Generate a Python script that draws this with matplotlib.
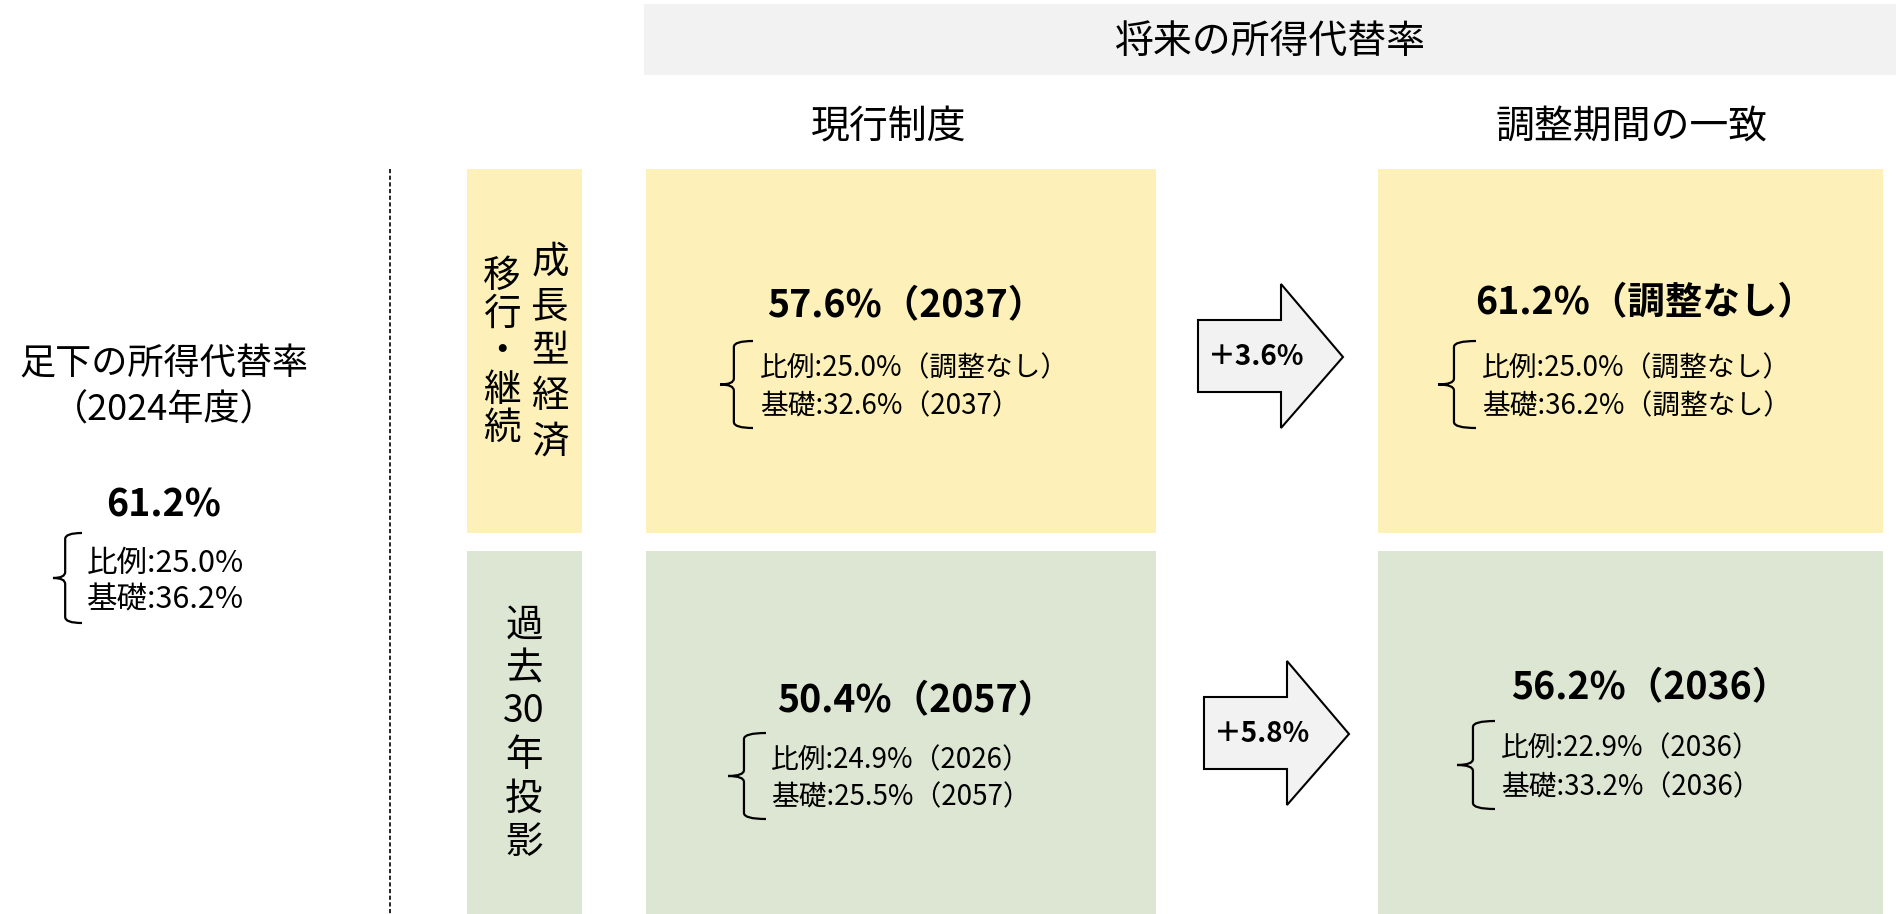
import matplotlib.pyplot as plt
from matplotlib.patches import Rectangle, Polygon, PathPatch
from matplotlib.path import Path

plt.rcParams['font.family'] = ['Noto Sans CJK JP', 'DejaVu Sans']

# data
header = "将来の所得代替率"
column_titles = ["現行制度", "調整期間の一致"]
row_labels = [["成長型経済", "移行・継続"], ["過去30年投影"]]

now_total = 61.2
now_prop = 25.0
now_basic = 36.2

cur_total = [57.6, 50.4]
cur_total_year = ["2037", "2057"]
cur_prop = [25.0, 24.9]
cur_prop_year = ["調整なし", "2026"]
cur_basic = [32.6, 25.5]
cur_basic_year = ["2037", "2057"]

new_total = [61.2, 56.2]
new_total_year = ["調整なし", "2036"]
new_prop = [25.0, 22.9]
new_prop_year = ["調整なし", "2036"]
new_basic = [36.2, 33.2]
new_basic_year = ["調整なし", "2036"]

yellow = "#fdf1b9"
green = "#dde6d2"
grey = "#f2f2f2"

fig = plt.figure(figsize=(18.96, 9.14), dpi=100)
ax = fig.add_axes([0, 0, 1, 1])
ax.set_xlim(0, 1896)
ax.set_ylim(914, 0)
ax.axis('off')


def brace(x0, x1, y0, y1):
    xm = x0 + (x1 - x0) * 0.42
    ym = (y0 + y1) / 2
    r = 6
    verts = [(x1, y0), (xm, y0), (xm, y0 + r), (xm, ym - r), (xm, ym), (x0, ym),
             (xm, ym), (xm, ym + r), (xm, y1 - r), (xm, y1), (x1, y1)]
    codes = [Path.MOVETO, Path.CURVE3, Path.CURVE3, Path.LINETO, Path.CURVE3, Path.CURVE3,
             Path.CURVE3, Path.CURVE3, Path.LINETO, Path.CURVE3, Path.CURVE3]
    ax.add_patch(PathPatch(Path(verts, codes), fill=False, lw=1.6, ec='black'))


def block(cx, ty, total, lines, bx, tx, ly):
    ax.text(cx, ty, total, ha='center', va='center', fontsize=27, fontweight='bold')
    brace(bx[0], bx[1], ly[0] - 27, ly[1] + 22)
    for t, y in zip(lines, ly):
        ax.text(tx, y, t, ha='left', va='center', fontsize=20)


def arrow(x0, yc, label):
    pts = [(x0, yc - 37), (x0 + 83, yc - 37), (x0 + 83, yc - 73), (x0 + 145, yc),
           (x0 + 83, yc + 71), (x0 + 83, yc + 35), (x0, yc + 35)]
    ax.add_patch(Polygon(pts, closed=True, fc=grey, ec='black', lw=1.5))
    ax.text(x0 + 58, yc, label, ha='center', va='center', fontsize=20, fontweight='bold')


# header bars
ax.add_patch(Rectangle((644, 4), 1252, 71, fc=grey, ec='none'))
ax.text(1270, 42, header, ha='center', va='center', fontsize=28)
ax.text(889, 127, column_titles[0], ha='center', va='center', fontsize=28)
ax.text(1632, 127, column_titles[1], ha='center', va='center', fontsize=28)

# dashed divider
ax.plot([390, 390], [169, 914], color='black', lw=1.2, ls=(0, (2.5, 1.5)))

# left block: current rate
ax.text(164, 365, "足下の所得代替率", ha='center', va='center', fontsize=26)
ax.text(164, 411, "（2024年度）", ha='center', va='center', fontsize=26)
ax.text(164, 505, f"{now_total:.1f}%", ha='center', va='center', fontsize=27, fontweight='bold')
brace(53, 82, 533, 623)
ax.text(87, 563, f"比例:{now_prop:.1f}%", ha='left', va='center', fontsize=22)
ax.text(87, 600, f"基礎:{now_basic:.1f}%", ha='left', va='center', fontsize=22)

# boxes
rows = [(169, 364, yellow), (551, 363, green)]
for top, h, c in rows:
    ax.add_patch(Rectangle((467, top), 115, h, fc=c, ec='none'))
    ax.add_patch(Rectangle((646, top), 510, h, fc=c, ec='none'))
    ax.add_patch(Rectangle((1378, top), 505, h, fc=c, ec='none'))

# vertical row labels
for i, ch in enumerate(row_labels[0][0]):
    ax.text(550, 262 + i * 45, ch, ha='center', va='center', fontsize=27)
for i, ch in enumerate(row_labels[0][1]):
    ax.text(502, 276 + i * 38, ch, ha='center', va='center', fontsize=27)
tokens = ["過", "去", "30", "年", "投", "影"]
for i, ch in enumerate(tokens):
    ax.text(524, 625 + i * 43.5, ch, ha='center', va='center', fontsize=27)

# middle column: current system
cur_pos = [dict(cx=906, ty=306, bx=(720, 753), tx=760, ly=(368, 406)),
           dict(cx=916, ty=701, bx=(728, 766), tx=771, ly=(760, 797))]
for i, p in enumerate(cur_pos):
    block(p['cx'], p['ty'], f"{cur_total[i]:.1f}%（{cur_total_year[i]}）",
          [f"比例:{cur_prop[i]:.1f}%（{cur_prop_year[i]}）",
           f"基礎:{cur_basic[i]:.1f}%（{cur_basic_year[i]}）"],
          p['bx'], p['tx'], p['ly'])

# right column: aligned adjustment periods
new_pos = [dict(cx=1645, ty=303, bx=(1438, 1476), tx=1482, ly=(368, 406)),
           dict(cx=1650, ty=688, bx=(1457, 1495), tx=1501, ly=(748, 787))]
for i, p in enumerate(new_pos):
    block(p['cx'], p['ty'], f"{new_total[i]:.1f}%（{new_total_year[i]}）",
          [f"比例:{new_prop[i]:.1f}%（{new_prop_year[i]}）",
           f"基礎:{new_basic[i]:.1f}%（{new_basic_year[i]}）"],
          p['bx'], p['tx'], p['ly'])

# arrows with improvements
arrow(1198, 357, f"＋{new_total[0] - cur_total[0]:.1f}%")
arrow(1204, 734, f"＋{new_total[1] - cur_total[1]:.1f}%")

fig.savefig("out.png", dpi=100)
